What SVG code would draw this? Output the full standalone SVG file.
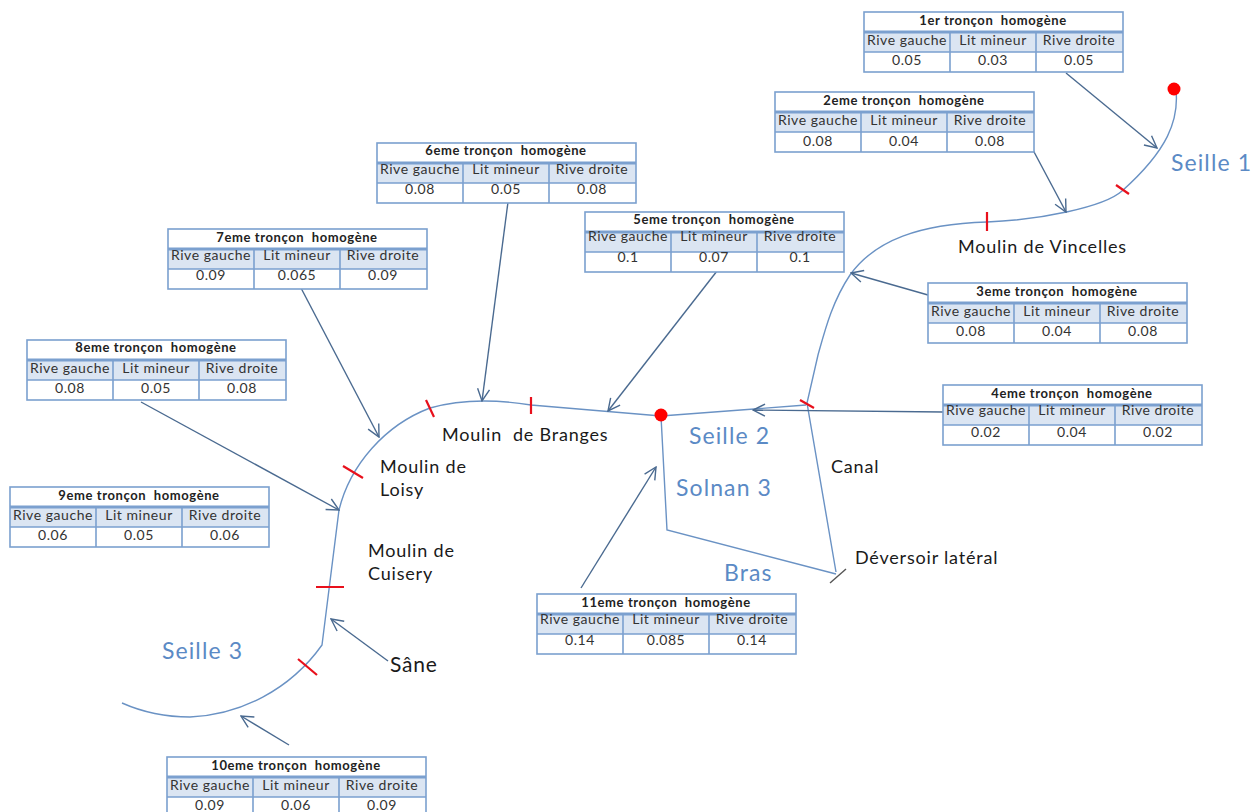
<svg xmlns="http://www.w3.org/2000/svg" xmlns:xlink="http://www.w3.org/1999/xlink" width="1260" height="812" viewBox="0 0 1260 812">
<style>
text{font-family:Lato,Carlito,"Open Sans",sans-serif;fill:#222;white-space:pre}
.t{font-size:13px;font-weight:700;text-anchor:middle;letter-spacing:.6px}
.h,.v{font-size:14px;text-anchor:middle;fill:#333;letter-spacing:.55px}
.b{font-size:23px;fill:#5b8ac5;letter-spacing:1.1px}
.l{font-size:18px;fill:#1a1a1a;letter-spacing:.8px}
.river{fill:none;stroke:#6a92c4;stroke-width:1.4}
.lead{fill:none;stroke:#4a6a90;stroke-width:1.4;marker-end:url(#arr)}
.cut{stroke:#e8101c;stroke-width:2.2;fill:none}
.frame{fill:none;stroke:#7ba0cf;stroke-width:1.6}
</style>
<defs>
<marker id="arr" viewBox="0 0 14 14" refX="13" refY="7" markerWidth="14" markerHeight="14" markerUnits="userSpaceOnUse" orient="auto"><path d="M1 1L13 7L1 13" fill="none" stroke="#4a6a90" stroke-width="1.4"/></marker>
<g id="tbl">
<rect x="0" y="0" width="259" height="60" fill="#fff"/>
<rect x="0" y="20" width="259" height="20" fill="#dbe5f2"/>
<rect class="frame" x="0" y="0" width="259" height="60"/>
<path class="frame" d="M0 40H259M86 20V60M172 20V60"/>
<path d="M0 20H259" fill="none" stroke="#7ba0cf" stroke-width="2.8"/>
</g>
</defs>
<rect width="1260" height="812" fill="#fff"/>
<g id="connectors">
<path class="river" d="M1176 90C1179 120 1168 150 1122 191C1104 207 1040 220 987 222C920 224 875 240 850 275C832 302 825 330 818 355L807 403L836 572"/>
<path class="river" d="M661 416L667 530L836 574"/>
<path class="river" d="M806 405L661 416L531 405C500 400 465 398 430 408C385 425 350 465 339 510L322 645C290 690 240 715 190 717C165 717 140 711 122 703"/>
<path class="cut" d="M1116 185L1129 194M987 212V231M800 400L814 408M531 397V414M426 400L434 417M343 466L363 478M316 587H344M298 659L317 675"/>
<path d="M830 583L846 569" fill="none" stroke="#555" stroke-width="1.4"/>
<path class="lead" d="M1066 73L1157 148"/>
<path class="lead" d="M1033 150L1066 212"/>
<path class="lead" d="M928 295L851 273"/>
<path class="lead" d="M943 412L753 410"/>
<path class="lead" d="M717 271L608 411"/>
<path class="lead" d="M508 202L482 401"/>
<path class="lead" d="M301 288L379 437"/>
<path class="lead" d="M141 402L339 510"/>
<path class="lead" d="M581 588L656 467"/>
<path class="lead" d="M388 661L331 619"/>
<path class="lead" d="M289 745L241 716"/>
<circle cx="1174" cy="89" r="6.5" fill="#f00"/>
<circle cx="661" cy="415" r="6.5" fill="#f00"/>
</g>
<g id="t1" transform="translate(864,12)"><use xlink:href="#tbl"/><text class="t" x="129" y="13">1er tronçon  homogène</text><text class="h" x="43" y="33">Rive gauche</text><text class="h" x="129" y="33">Lit mineur</text><text class="h" x="215" y="33">Rive droite</text><text class="v" x="43" y="53">0.05</text><text class="v" x="129" y="53">0.03</text><text class="v" x="215" y="53">0.05</text></g>
<g id="t2" transform="translate(775,92)"><use xlink:href="#tbl"/><text class="t" x="129" y="13">2eme tronçon  homogène</text><text class="h" x="43" y="33">Rive gauche</text><text class="h" x="129" y="33">Lit mineur</text><text class="h" x="215" y="33">Rive droite</text><text class="v" x="43" y="54">0.08</text><text class="v" x="129" y="54">0.04</text><text class="v" x="215" y="54">0.08</text></g>
<g id="t3" transform="translate(928,283)"><use xlink:href="#tbl"/><text class="t" x="129" y="13">3eme tronçon  homogène</text><text class="h" x="43" y="33">Rive gauche</text><text class="h" x="129" y="33">Lit mineur</text><text class="h" x="215" y="33">Rive droite</text><text class="v" x="43" y="53">0.08</text><text class="v" x="129" y="53">0.04</text><text class="v" x="215" y="53">0.08</text></g>
<g id="t4" transform="translate(943,385)"><use xlink:href="#tbl"/><text class="t" x="129" y="13">4eme tronçon  homogène</text><text class="h" x="43" y="30">Rive gauche</text><text class="h" x="129" y="30">Lit mineur</text><text class="h" x="215" y="30">Rive droite</text><text class="v" x="43" y="52">0.02</text><text class="v" x="129" y="52">0.04</text><text class="v" x="215" y="52">0.02</text></g>
<g id="t5" transform="translate(585,212)"><use xlink:href="#tbl"/><text class="t" x="129" y="12">5eme tronçon  homogène</text><text class="h" x="43" y="29">Rive gauche</text><text class="h" x="129" y="29">Lit mineur</text><text class="h" x="215" y="29">Rive droite</text><text class="v" x="43" y="50">0.1</text><text class="v" x="129" y="50">0.07</text><text class="v" x="215" y="50">0.1</text></g>
<g id="t6" transform="translate(377,143)"><use xlink:href="#tbl"/><text class="t" x="129" y="12">6eme tronçon  homogène</text><text class="h" x="43" y="31">Rive gauche</text><text class="h" x="129" y="31">Lit mineur</text><text class="h" x="215" y="31">Rive droite</text><text class="v" x="43" y="51">0.08</text><text class="v" x="129" y="51">0.05</text><text class="v" x="215" y="51">0.08</text></g>
<g id="t7" transform="translate(168,229)"><use xlink:href="#tbl"/><text class="t" x="129" y="13">7eme tronçon  homogène</text><text class="h" x="43" y="31">Rive gauche</text><text class="h" x="129" y="31">Lit mineur</text><text class="h" x="215" y="31">Rive droite</text><text class="v" x="43" y="51">0.09</text><text class="v" x="129" y="51">0.065</text><text class="v" x="215" y="51">0.09</text></g>
<g id="t8" transform="translate(27,340)"><use xlink:href="#tbl"/><text class="t" x="129" y="12">8eme tronçon  homogène</text><text class="h" x="43" y="33">Rive gauche</text><text class="h" x="129" y="33">Lit mineur</text><text class="h" x="215" y="33">Rive droite</text><text class="v" x="43" y="53">0.08</text><text class="v" x="129" y="53">0.05</text><text class="v" x="215" y="53">0.08</text></g>
<g id="t9" transform="translate(10,487)"><use xlink:href="#tbl"/><text class="t" x="129" y="13">9eme tronçon  homogène</text><text class="h" x="43" y="33">Rive gauche</text><text class="h" x="129" y="33">Lit mineur</text><text class="h" x="215" y="33">Rive droite</text><text class="v" x="43" y="53">0.06</text><text class="v" x="129" y="53">0.05</text><text class="v" x="215" y="53">0.06</text></g>
<g id="t10" transform="translate(167,757)"><use xlink:href="#tbl"/><text class="t" x="129" y="13">10eme tronçon  homogène</text><text class="h" x="43" y="33">Rive gauche</text><text class="h" x="129" y="33">Lit mineur</text><text class="h" x="215" y="33">Rive droite</text><text class="v" x="43" y="53">0.09</text><text class="v" x="129" y="53">0.06</text><text class="v" x="215" y="53">0.09</text></g>
<g id="t11" transform="translate(537,594)"><use xlink:href="#tbl"/><text class="t" x="129" y="13">11eme tronçon  homogène</text><text class="h" x="43" y="30">Rive gauche</text><text class="h" x="129" y="30">Lit mineur</text><text class="h" x="215" y="30">Rive droite</text><text class="v" x="43" y="51">0.14</text><text class="v" x="129" y="51">0.085</text><text class="v" x="215" y="51">0.14</text></g>
<g id="labels">
<text class="b" x="1171" y="171">Seille 1</text>
<text class="b" x="689" y="444">Seille 2</text>
<text class="b" x="676" y="496">Solnan 3</text>
<text class="b" x="724" y="581">Bras</text>
<text class="b" x="162" y="659">Seille 3</text>
<text class="l" x="958" y="253">Moulin de Vincelles</text>
<text class="l" x="442" y="441">Moulin  de Branges</text>
<text class="l" x="380" y="473">Moulin de</text>
<text class="l" x="380" y="496">Loisy</text>
<text class="l" x="368" y="557">Moulin de</text>
<text class="l" x="368" y="580">Cuisery</text>
<text class="l" x="831" y="473">Canal</text>
<text class="l" x="855" y="564">Déversoir latéral</text>
<text class="l" x="390" y="672" style="font-size:21px">Sâne</text>
</g>
</svg>
